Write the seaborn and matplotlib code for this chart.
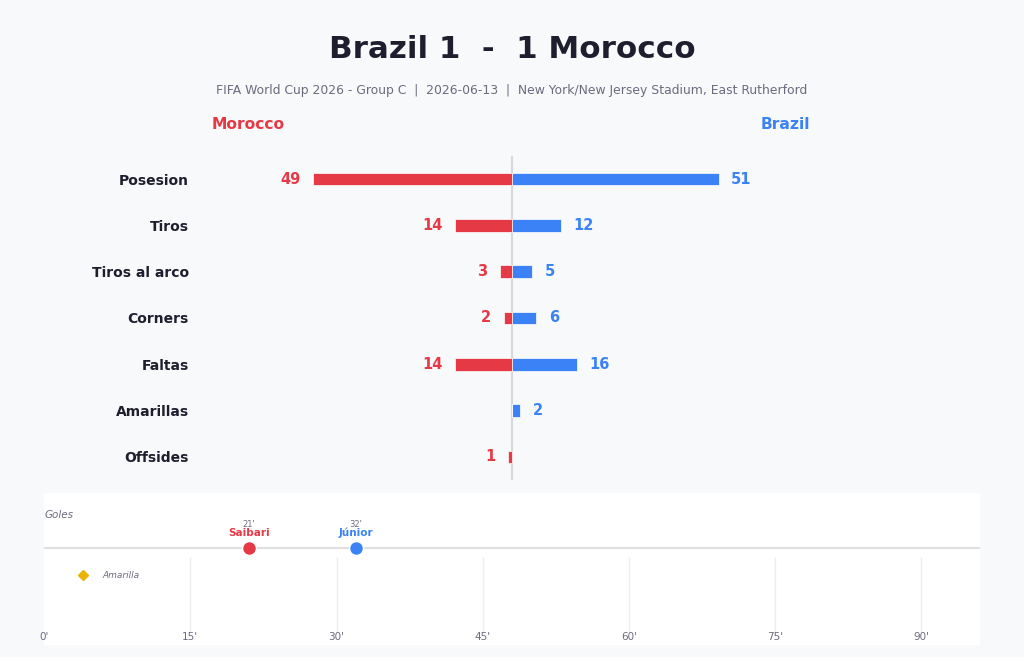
import pandas as pd
import seaborn as sns
import matplotlib.pyplot as plt

# match data
stats = ['Posesion', 'Tiros', 'Tiros al arco', 'Corners', 'Faltas', 'Amarillas', 'Offsides']
brazil = [51, 12, 5, 6, 16, 2, 0]
morocco = [49, 14, 3, 2, 14, 0, 1]

home_team = 'Brazil'
away_team = 'Morocco'
title = 'Brazil 1  -  1 Morocco'
subtitle = 'FIFA World Cup 2026 - Group C  |  2026-06-13  |  New York/New Jersey Stadium, East Rutherford'

# timeline events
goal_minutes = [21, 32]
goal_players = ['Saibari', 'Júnior']
goal_teams = ['Morocco', 'Brazil']
card_minutes = [4]
card_labels = ['Amarilla']
minute_ticks = [0, 15, 30, 45, 60, 75, 90]

RED = '#e63946'
BLUE = '#3b82f6'
DARK = '#1e1e2e'
GRAY = '#6b6b80'
BG = '#f8f9fb'
team_colors = {'Brazil': BLUE, 'Morocco': RED}

sns.set_style('white')
plt.rcParams['font.family'] = ['DejaVu Sans']

# long format, Morocco to the left
df = pd.DataFrame({
    'stat': stats * 2,
    'team': [home_team] * len(stats) + [away_team] * len(stats),
    'value': brazil + morocco,
})
df['signed'] = df.apply(lambda r: -r['value'] if r['team'] == away_team else r['value'], axis=1)

fig = plt.figure(figsize=(10.24, 6.57), dpi=100, facecolor=BG)

# stats comparison
ax = fig.add_axes([0.1953, 0.2694, 0.6094, 0.4932])
ax.set_facecolor(BG)
sns.barplot(data=df, y='stat', x='signed', hue='team', order=stats, dodge=False,
            palette=team_colors, saturation=1, orient='h', width=0.27,
            edgecolor='white', linewidth=0.5, ax=ax, legend=False)
ax.set_xlim(-77, 77)
ax.set_ylim(len(stats) - 0.5, -0.5)
ax.axvline(0, color='#d8d8d8', lw=1.5, zorder=0)
ax.set_xlabel('')
ax.set_ylabel('')
ax.set_xticks([])
ax.tick_params(axis='y', length=0, pad=8, labelsize=10, labelcolor=DARK)
for lbl in ax.get_yticklabels():
    lbl.set_fontweight('bold')
sns.despine(ax=ax, left=True, bottom=True)

for i, (b, m) in enumerate(zip(brazil, morocco)):
    if b > 0:
        ax.annotate(str(b), (b, i), xytext=(9, 0), textcoords='offset points',
                    ha='left', va='center', color=BLUE, fontsize=10.5, fontweight='bold')
    if m > 0:
        ax.annotate(str(m), (-m, i), xytext=(-9, 0), textcoords='offset points',
                    ha='right', va='center', color=RED, fontsize=10.5, fontweight='bold')

# titles
fig.text(0.5, 0.924, title, ha='center', va='center', fontsize=22.3, fontweight='bold', color=DARK)
fig.text(0.5, 0.863, subtitle, ha='center', va='center', fontsize=8.9, color=GRAY)
fig.text(0.207, 0.811, away_team, ha='left', va='center', fontsize=11.2, fontweight='bold', color=RED)
fig.text(0.791, 0.811, home_team, ha='right', va='center', fontsize=11.2, fontweight='bold', color=BLUE)

# timeline
tx = fig.add_axes([0.043, 0.0183, 0.914, 0.2313])
tx.set_facecolor('white')
tx.set_xlim(0, 96)
tx.set_ylim(0, 1)
tx.vlines(minute_ticks[1:], 0.086, 0.579, color='#eeeeee', lw=1, zorder=0)
tx.axhline(0.638, color='#e0e0e0', lw=1.5, zorder=1)
tx.text(0.1, 0.855, 'Goles', fontsize=7.5, style='italic', color=GRAY, va='center')

for minute, player, team in zip(goal_minutes, goal_players, goal_teams):
    c = team_colors[team]
    tx.plot(minute, 0.638, 'o', color=c, markersize=10, markeredgecolor='white',
            markeredgewidth=1, zorder=3)
    tx.text(minute, 0.795, f"{minute}'", ha='center', va='center', fontsize=6, color=GRAY)
    tx.text(minute, 0.74, player, ha='center', va='center', fontsize=7.5,
            fontweight='bold', color=c)

for minute, label in zip(card_minutes, card_labels):
    tx.plot(minute, 0.46, 'D', color='#eab308', markersize=5, zorder=3)
    tx.text(minute + 2, 0.46, label, ha='left', va='center', fontsize=6.5,
            style='italic', color=GRAY)

tx.set_xticks(minute_ticks)
tx.set_xticklabels([f"{m}'" for m in minute_ticks])
tx.set_yticks([])
tx.tick_params(axis='x', length=0, pad=-9, labelsize=7.5, labelcolor=GRAY)
for s in tx.spines.values():
    s.set_visible(False)

fig.savefig('out.png', dpi=100, facecolor=BG)
